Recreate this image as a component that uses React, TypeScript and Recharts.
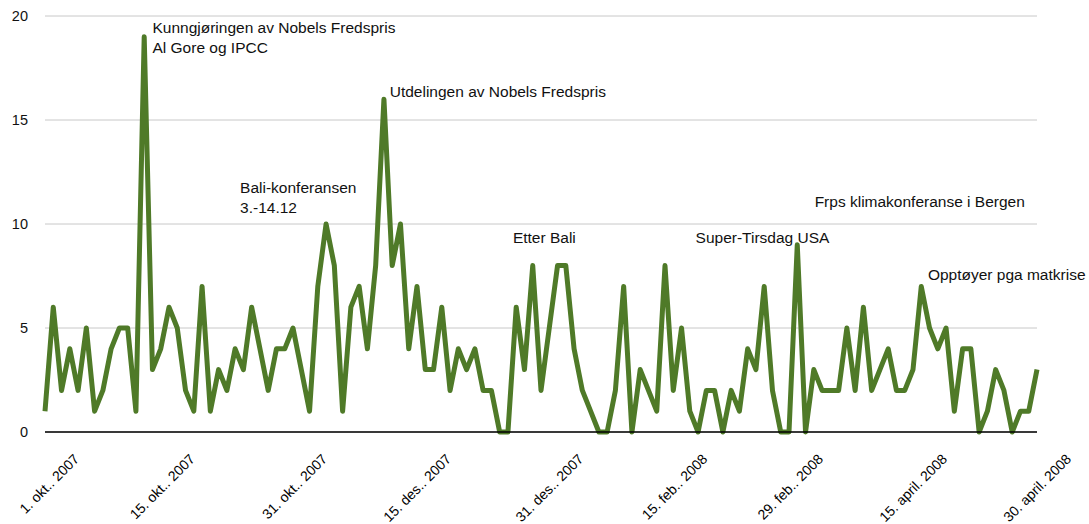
import { LineChart, Line, XAxis, YAxis, CartesianGrid, ReferenceDot } from "recharts"

// weekly-ish counts
const values = [
  1, 6, 2, 4, 2, 5, 1, 2, 4, 5, 5, 1, 19, 3, 4, 6, 5, 2, 1, 7,
  1, 3, 2, 4, 3, 6, 4, 2, 4, 4, 5, 3, 1, 7, 10, 8, 1, 6, 7, 4,
  8, 16, 8, 10, 4, 7, 3, 3, 6, 2, 4, 3, 4, 2, 2, 0, 0, 6, 3, 8,
  2, 5, 8, 8, 4, 2, 1, 0, 0, 2, 7, 0, 3, 2, 1, 8, 2, 5, 1, 0,
  2, 2, 0, 2, 1, 4, 3, 7, 2, 0, 0, 9, 0, 3, 2, 2, 2, 5, 2, 6,
  2, 3, 4, 2, 2, 3, 7, 5, 4, 5, 1, 4, 4, 0, 1, 3, 2, 0, 1, 1,
  3,
]

const tickIdx = [0, 14, 30, 45, 61, 76, 90, 105, 120]
const tickLabels = [
  "1. okt.. 2007",
  "15. okt.. 2007",
  "31. okt.. 2007",
  "15. des.. 2007",
  "31. des.. 2007",
  "15. feb.. 2008",
  "29. feb.. 2008",
  "15. april. 2008",
  "30. april. 2008",
]

const yTicks = [0, 5, 10, 15, 20]

// annotations: text lines + anchor in data units (index, value)
const annoText = [
  ["Kunngjøringen av Nobels Fredspris", "Al Gore og IPCC"],
  ["Utdelingen av Nobels Fredspris"],
  ["Bali-konferansen", "3.-14.12"],
  ["Etter Bali"],
  ["Super-Tirsdag USA"],
  ["Frps klimakonferanse i Bergen"],
  ["Opptøyer pga matkrise"],
]
const annoX = [13.0, 41.7, 23.6, 56.6, 78.7, 93.1, 106.8]
const annoY = [19.17, 16.12, 11.49, 9.1, 9.09, 10.83, 7.31]

const data = values.map((v, i) => ({ i, v }))

const FONT = '"Liberation Sans", Arial, Helvetica, sans-serif'

const XTick = ({ x, y, payload }: any) => {
  const k = tickIdx.indexOf(payload.value)
  const px = x + 35
  const py = y + 20
  return (
    <text
      x={px}
      y={py}
      textAnchor="end"
      fontSize={14}
      fontFamily={FONT}
      fill="#000"
      transform={`rotate(-45, ${px}, ${py})`}
    >
      {k >= 0 ? tickLabels[k] : ""}
    </text>
  )
}

const Anno = (lines: string[]) => (props: any) => (
  <text x={props.cx} y={props.cy} fontSize={15.5} fontFamily={FONT} fill="#111">
    {lines.map((t, j) => (
      <tspan key={j} x={props.cx} dy={j === 0 ? 0 : 20}>
        {t}
      </tspan>
    ))}
  </text>
)

export default function App() {
  return (
    <div style={{ position: "absolute", left: 0, top: 0, background: "#fff" }}>
      <LineChart
        width={1089}
        height={524}
        data={data}
        margin={{ top: 16, right: 52, bottom: 0, left: 0 }}
      >
        <CartesianGrid vertical={false} stroke="#c8c8c8" />
        <XAxis
          dataKey="i"
          type="number"
          domain={[0, 120]}
          ticks={tickIdx}
          interval={0}
          height={92}
          tickLine={false}
          axisLine={{ stroke: "#000", strokeWidth: 1.5 }}
          tick={<XTick />}
        />
        <YAxis
          domain={[0, 20]}
          ticks={yTicks}
          width={45}
          tickLine={false}
          axisLine={false}
          tickSize={0}
          tickMargin={17}
          tick={{ fontSize: 14.5, fill: "#111", fontFamily: FONT }}
        />
        <Line
          type="linear"
          dataKey="v"
          stroke="#4f7a28"
          strokeWidth={5}
          strokeLinejoin="round"
          dot={false}
          activeDot={false}
          isAnimationActive={false}
        />
        {annoText.map((lines, k) => (
          <ReferenceDot
            key={k}
            x={annoX[k]}
            y={annoY[k]}
            r={0}
            shape={Anno(lines)}
          />
        ))}
      </LineChart>
    </div>
  )
}
